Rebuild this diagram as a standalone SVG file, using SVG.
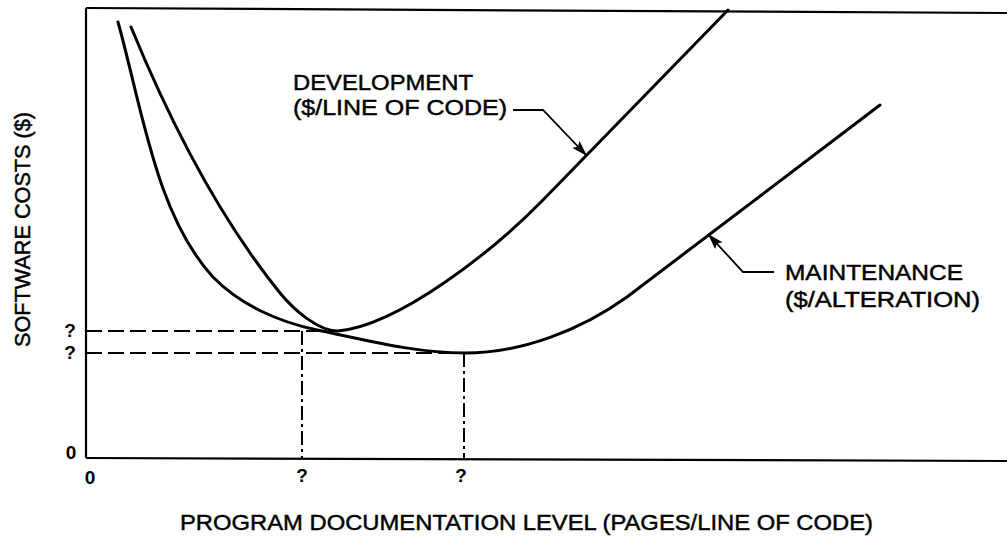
<svg xmlns="http://www.w3.org/2000/svg" width="1007" height="537" viewBox="0 0 1007 537">
  <style>
    .lbl { font-family: "Liberation Sans", Arial, sans-serif; font-size: 22px; fill: #000; stroke: #000; stroke-width: 0.45; }
    .tick { font-family: "Liberation Sans", Arial, sans-serif; font-size: 19px; font-weight: bold; fill: #000; }
    .axis { stroke: #000; stroke-width: 2.2; fill: none; }
    .curve { stroke: #000; stroke-width: 3; fill: none; stroke-linecap: round; stroke-linejoin: round; }
    .dash { stroke: #000; stroke-width: 2; fill: none; stroke-dasharray: 16 6; }
    .dashdot { stroke: #000; stroke-width: 2; fill: none; stroke-dasharray: 14 4 3 4; }
    .leader { stroke: #000; stroke-width: 1.8; fill: none; }
  </style>
  <defs>
    <marker id="head" markerUnits="userSpaceOnUse" markerWidth="16" markerHeight="10" refX="16" refY="5" orient="auto">
      <path d="M0,0 L16,5 L0,10 L3,5 z" fill="#000"/>
    </marker>
  </defs>

  <rect width="1007" height="537" fill="#fff"/>

  <!-- plot frame: y axis, top rule, x axis -->
  <g id="axes">
    <line class="axis" x1="86" y1="8" x2="86" y2="458"/>
    <line class="axis" x1="86" y1="8" x2="1007" y2="13"/>
    <line class="axis" x1="86" y1="458" x2="1007" y2="461"/>
  </g>

  <!-- reference levels -->
  <g id="guides">
    <line class="dash" x1="86" y1="331" x2="336" y2="331"/>
    <line class="dash" x1="86" y1="353" x2="465" y2="353"/>
    <line class="dashdot" x1="302" y1="331" x2="302" y2="458"/>
    <line class="dashdot" x1="464" y1="353" x2="464" y2="459"/>
  </g>

  <!-- cost curves -->
  <g id="maintenance-curve">
    <path class="curve" d="M118,22 C142,108 156,215 213,277 C240,305 279,322 317,330 C366,340 415,353 465,353 C522,353 581,330 627,297 L880,105"/>
  </g>
  <g id="development-curve">
    <path class="curve" d="M131,27 C168,117 217,215 280,293 C294,310 318,331 338,331 C400,325 494,250 543,200 L728,10"/>
  </g>

  <!-- label leaders -->
  <g id="connectors">
    <path class="leader" d="M513,110 L543,110 L587,156" marker-end="url(#head)"/>
    <path class="leader" d="M774,272 L743,272 L708,234" marker-end="url(#head)"/>
  </g>

  <g id="development-label">
    <text class="lbl" x="293" y="90" textLength="180" lengthAdjust="spacingAndGlyphs">DEVELOPMENT</text>
    <text class="lbl" x="293" y="115" textLength="214" lengthAdjust="spacingAndGlyphs">($/LINE OF CODE)</text>
  </g>

  <g id="maintenance-label">
    <text class="lbl" x="785" y="280" textLength="178" lengthAdjust="spacingAndGlyphs">MAINTENANCE</text>
    <text class="lbl" x="785" y="307" textLength="195" lengthAdjust="spacingAndGlyphs">($/ALTERATION)</text>
  </g>

  <!-- tick labels -->
  <g id="ticks">
    <text class="tick" x="70" y="337" text-anchor="middle">?</text>
    <text class="tick" x="70" y="359" text-anchor="middle">?</text>
    <text class="tick" x="71" y="459" text-anchor="middle">0</text>
    <text class="tick" x="90" y="484" text-anchor="middle">0</text>
    <text class="tick" x="302" y="482" text-anchor="middle">?</text>
    <text class="tick" x="461" y="482" text-anchor="middle">?</text>
  </g>

  <!-- axis titles -->
  <g id="axis-titles">
    <text class="lbl" x="180" y="530" textLength="693" lengthAdjust="spacingAndGlyphs">PROGRAM DOCUMENTATION LEVEL (PAGES/LINE OF CODE)</text>
    <text class="lbl" transform="translate(30,347) rotate(-90)" x="0" y="0" textLength="235" lengthAdjust="spacingAndGlyphs">SOFTWARE COSTS ($)</text>
  </g>
</svg>
